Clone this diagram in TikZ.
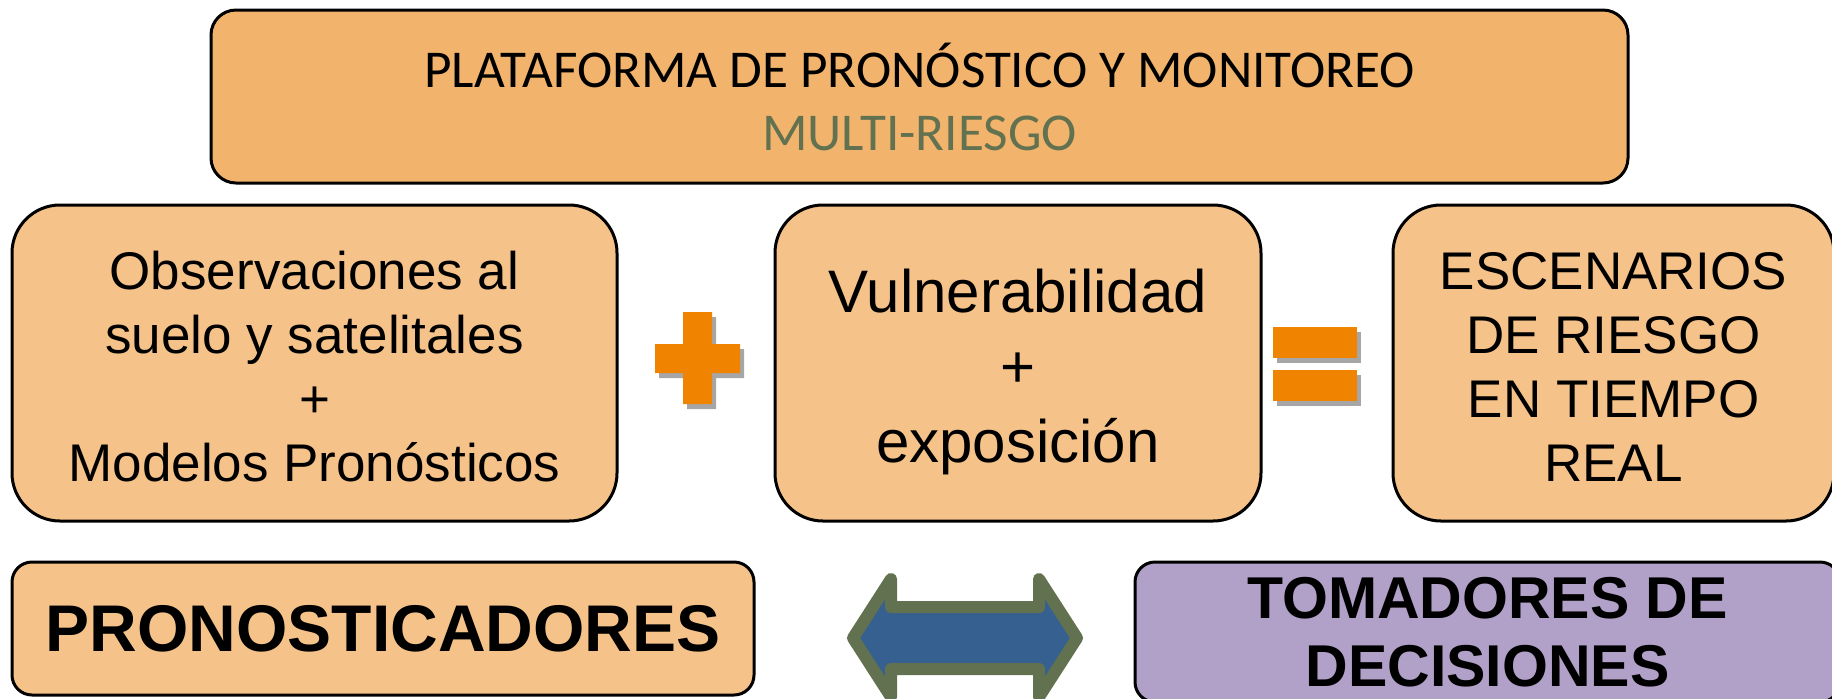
\documentclass[tikz,border=0pt]{standalone}
\usepackage{fontspec}
\setmainfont{Liberation Sans}
\newfontfamily\calibrifont{Carlito}
\usepackage{tikz}
\usetikzlibrary{shadows}

\definecolor{topfill}{HTML}{F2B46C}
\definecolor{boxfill}{HTML}{F5C38A}
\definecolor{purplefill}{HTML}{B1A0C7}
\definecolor{signorange}{HTML}{F08300}
\definecolor{olivegreen}{HTML}{62714F}
\definecolor{arrowblue}{HTML}{36608F}

\tikzset{
  bigbox/.style={draw=black, line width=1.5pt, rounded corners=24pt,
    fill=boxfill, minimum height=158pt, inner sep=0pt},
  boxtext/.style={inner sep=0pt, align=center, font=\fontsize{26.5}{32}\selectfont},
  rolebox/.style={draw=black, line width=1.5pt, rounded corners=10pt,
    inner sep=0pt, align=center},
  signbar/.style={fill=signorange,
    drop shadow={shadow xshift=2pt, shadow yshift=-2.5pt, opacity=0.35, fill=black}}
}

\begin{document}
\begin{tikzpicture}[x=0.5pt, y=-0.5pt]
    \useasboundingbox (0,0) rectangle (1832,698);

    % platform title
    \node[draw=black, line width=1.5pt, rounded corners=12.5pt, fill=topfill,
          minimum width=708.5pt, minimum height=86.5pt, inner sep=0pt, align=center,
          font=\calibrifont\fontsize{26.6}{31.5}\selectfont]
          (plataforma) at (919.5,96.5)
          {PLATAFORMA DE PRONÓSTICO Y MONITOREO\\ \textcolor{olivegreen}{MULTI-RIESGO}};

    % the three boxes of the sum
    \node[bigbox, minimum width=302.5pt] (observaciones) at (314.5,363) {};
    \node[bigbox, minimum width=243pt] (vulnerabilidad) at (1018,363) {};
    \node[bigbox, minimum width=220.5pt] (escenarios) at (1613.5,363) {};

    % their texts
    \node[boxtext] (observaciones-texto) at (314.5,367)
          {Observaciones al\\ suelo y satelitales\\ +\\ Modelos Pronósticos};
    \node[boxtext, font=\fontsize{30}{37.5}\selectfont] (vulnerabilidad-texto) at (1018,372)
          {Vulnerabilidad\\ +\\ exposición};
    \node[boxtext] (escenarios-texto) at (1613.5,367)
          {ESCENARIOS\\ DE RIESGO\\ EN TIEMPO\\ REAL};

    % plus sign
    \fill[signbar] (683,312) -- (712,312) -- (712,344) -- (740,344) -- (740,373)
        -- (712,373) -- (712,404) -- (683,404) -- (683,373) -- (655,373)
        -- (655,344) -- (683,344) -- cycle;

    % equal sign
    \fill[signbar] (1273,327) rectangle (1357,358);
    \fill[signbar] (1273,370) rectangle (1357,401);

    % the two roles
    \node[rolebox, fill=boxfill, minimum width=371pt, minimum height=66.5pt,
          font=\bfseries\fontsize{33}{34}\selectfont]
          (pronosticadores) at (383,628.5) {PRONOSTICADORES};
    \node[rolebox, fill=purplefill, minimum width=352.5pt, minimum height=70pt,
          font=\bfseries\fontsize{29.5}{34}\selectfont]
          (tomadores) at (1487.5,632) {TOMADORES DE\\ DECISIONES};

    % double arrow between the roles
    \filldraw[fill=arrowblue, draw=olivegreen, line width=6pt, line join=round]
        (853,638) -- (891,579) -- (891,607) -- (1039,607) -- (1039,579)
        -- (1077,638) -- (1039,697) -- (1039,669) -- (891,669) -- (891,697) -- cycle;

  \end{tikzpicture}
\end{document}
